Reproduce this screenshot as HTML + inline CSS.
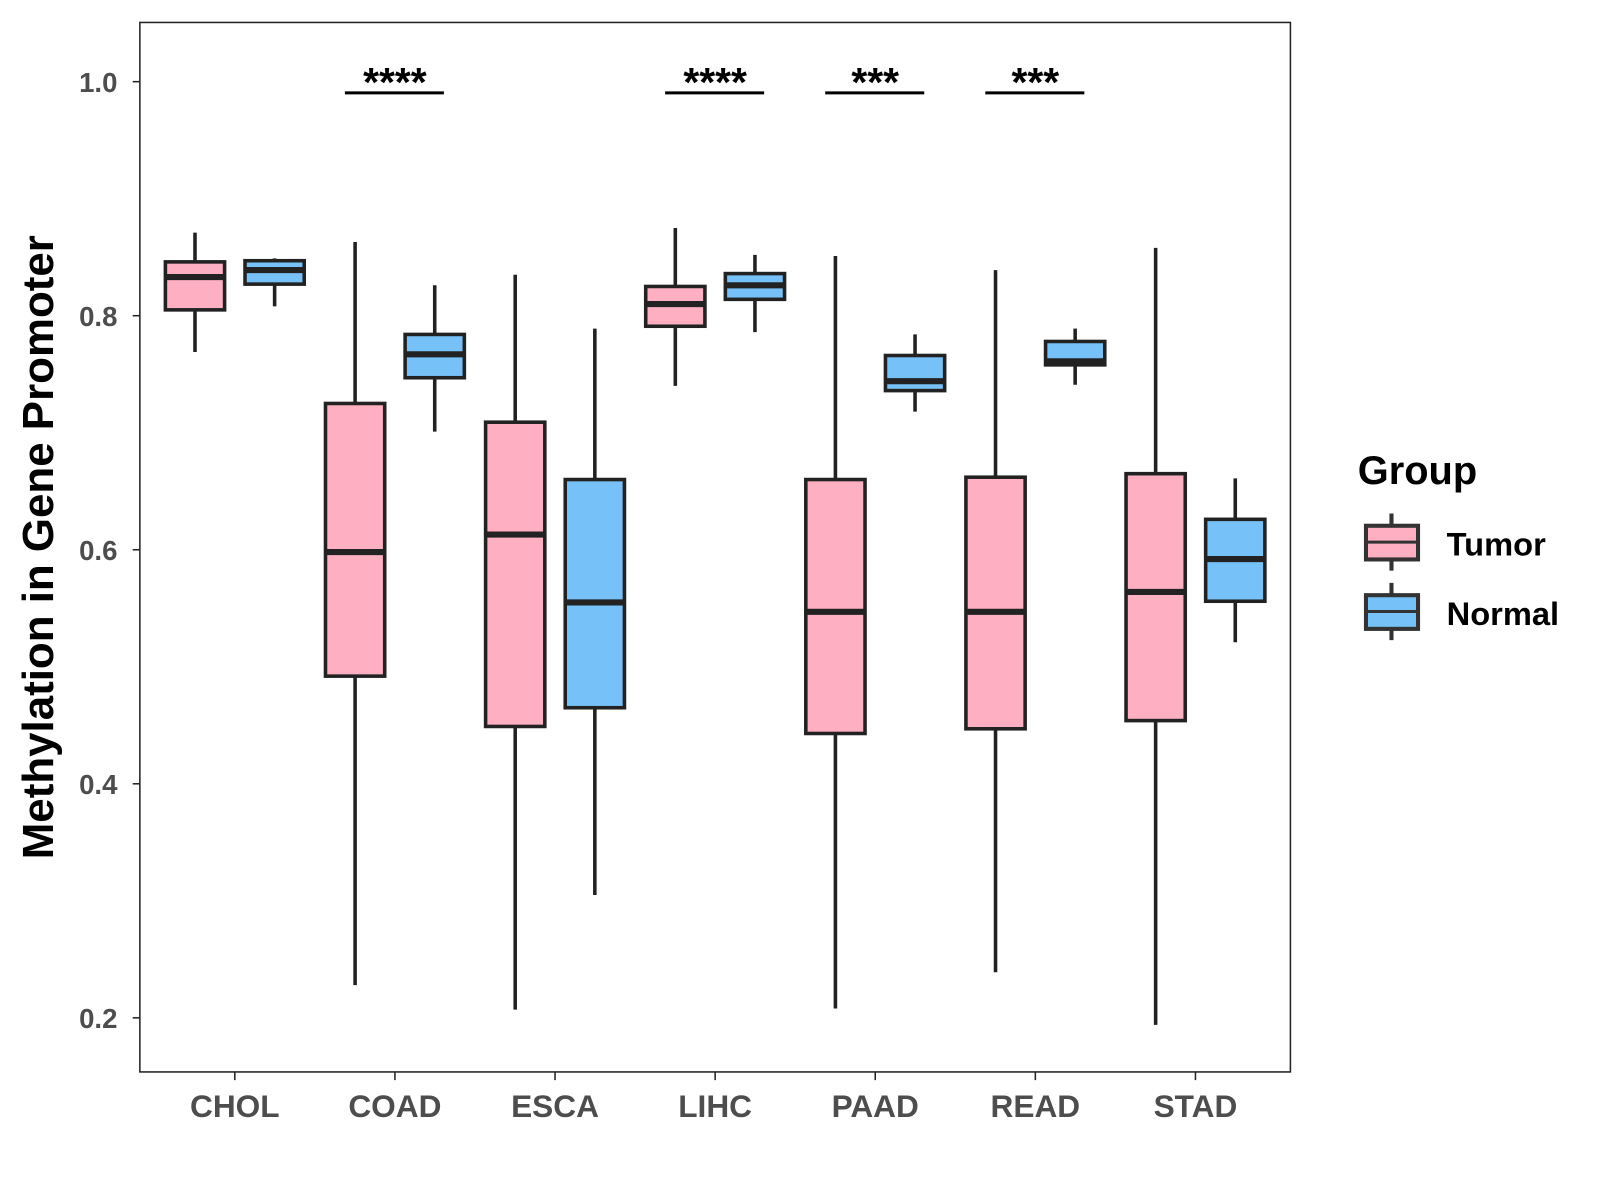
<!DOCTYPE html>
<html><head><meta charset="utf-8"><style>
body{margin:0;background:#fff;}
svg{display:block;font-family:"Liberation Sans",Arial,sans-serif;}
</style></head><body>
<svg id="chart" width="1600" height="1200" viewBox="0 0 1600 1200">
<g transform="scale(1.0209)">
<rect x="137" y="22" width="1127" height="1028" fill="#fff" stroke="#222" stroke-width="1.5"/>
<g id="marks"></g>
<text x="52" y="536" transform="rotate(-90 52 536)" text-anchor="middle" font-size="43" font-weight="bold" fill="#000">Methylation in Gene Promoter</text>
<text x="1330" y="474" font-size="39" font-weight="bold" fill="#000">Group</text>
<g>
<line x1="1363" y1="503" x2="1363" y2="559" stroke="#333" stroke-width="4"/>
<rect x="1338" y="515" width="51" height="33" fill="#FFAFC2" stroke="#333" stroke-width="4"/>
<line x1="1338" y1="531" x2="1389" y2="531" stroke="#333" stroke-width="3"/>
<text x="1417" y="544" font-size="32" font-weight="bold" fill="#000">Tumor</text>
</g>
<g>
<line x1="1363" y1="571" x2="1363" y2="627" stroke="#333" stroke-width="4"/>
<rect x="1338" y="583" width="51" height="33" fill="#76C1F7" stroke="#333" stroke-width="4"/>
<line x1="1338" y1="599" x2="1389" y2="599" stroke="#333" stroke-width="3"/>
<text x="1417" y="612" font-size="32" font-weight="bold" fill="#000">Normal</text>
</g>
</g>
</svg>
<script>
const categories=["CHOL","COAD","ESCA","LIHC","PAAD","READ","STAD"];
const tumorStats=[[0.769,0.805,0.833,0.846,0.871],[0.228,0.492,0.598,0.725,0.863],[0.207,0.449,0.613,0.709,0.835],[0.740,0.791,0.810,0.825,0.875],[0.208,0.443,0.547,0.660,0.851],[0.239,0.447,0.547,0.662,0.839],[0.194,0.454,0.564,0.665,0.858]];
const normalStats=[[0.808,0.827,0.839,0.847,0.849],[0.701,0.747,0.767,0.784,0.826],[0.305,0.465,0.555,0.660,0.789],[0.786,0.814,0.826,0.836,0.852],[0.718,0.736,0.744,0.766,0.784],[0.741,0.758,0.761,0.778,0.789],[0.521,0.556,0.592,0.626,0.661]];
const signif=["","****","","****","***","***",""];
const yTicks=[0.2,0.4,0.6,0.8,1.0];
const yTickLabels=["0.2","0.4","0.6","0.8","1.0"];
const NS="http://www.w3.org/2000/svg";
const y=v=>80+(1-v)*1146.25;
const x=i=>230+i*156.83;
const g=document.getElementById('marks');
function mk(t,a){const e=document.createElementNS(NS,t);for(const k in a)e.setAttribute(k,a[k]);g.appendChild(e);return e;}
yTicks.forEach((v,i)=>{
 const t=mk('line',{x1:130,x2:137,y1:y(v),y2:y(v),stroke:'#222','stroke-width':1.5});
 
 
 const l=mk('text',{x:115,y:y(v)+10,'text-anchor':'end','font-size':27,'font-weight':'bold',fill:'#4d4d4d'});
 
 
 l.textContent=yTickLabels[i];
});
function box(cx,s,fill,name){
 const w=58;
 const wl=mk('line',{x1:cx,x2:cx,y1:y(s[4]),y2:y(s[0]),stroke:'#222','stroke-width':3.5});
 
 
 const r=mk('rect',{x:cx-w/2,y:y(s[3]),width:w,height:y(s[1])-y(s[3]),fill:fill,stroke:'#222','stroke-width':3.5});
 
 
 const m=mk('line',{x1:cx-w/2,x2:cx+w/2,y1:y(s[2]),y2:y(s[2]),stroke:'#222','stroke-width':6});
 
 
}
categories.forEach((c,i)=>{
 const cx=x(i);
 box(cx-39,tumorStats[i],'#FFAFC2','tumor-'+c.toLowerCase());
 box(cx+39,normalStats[i],'#76C1F7','normal-'+c.toLowerCase());
 const t=mk('line',{x1:cx,x2:cx,y1:1050,y2:1058,stroke:'#222','stroke-width':1.5});
 
 
 const l=mk('text',{x:cx,y:1094,'text-anchor':'middle','font-size':31,'font-weight':'bold',fill:'#4d4d4d'});
 
 
 l.textContent=c;
 if(signif[i]){
  const b=mk('line',{x1:cx-49,x2:cx+48,y1:91,y2:91,stroke:'#000','stroke-width':3});
  
  
  const s=mk('text',{x:cx,y:94,'text-anchor':'middle','font-size':40,'font-weight':'bold',fill:'#000'});
  
  
  s.textContent=signif[i];
 }
});
</script>
</body></html>
